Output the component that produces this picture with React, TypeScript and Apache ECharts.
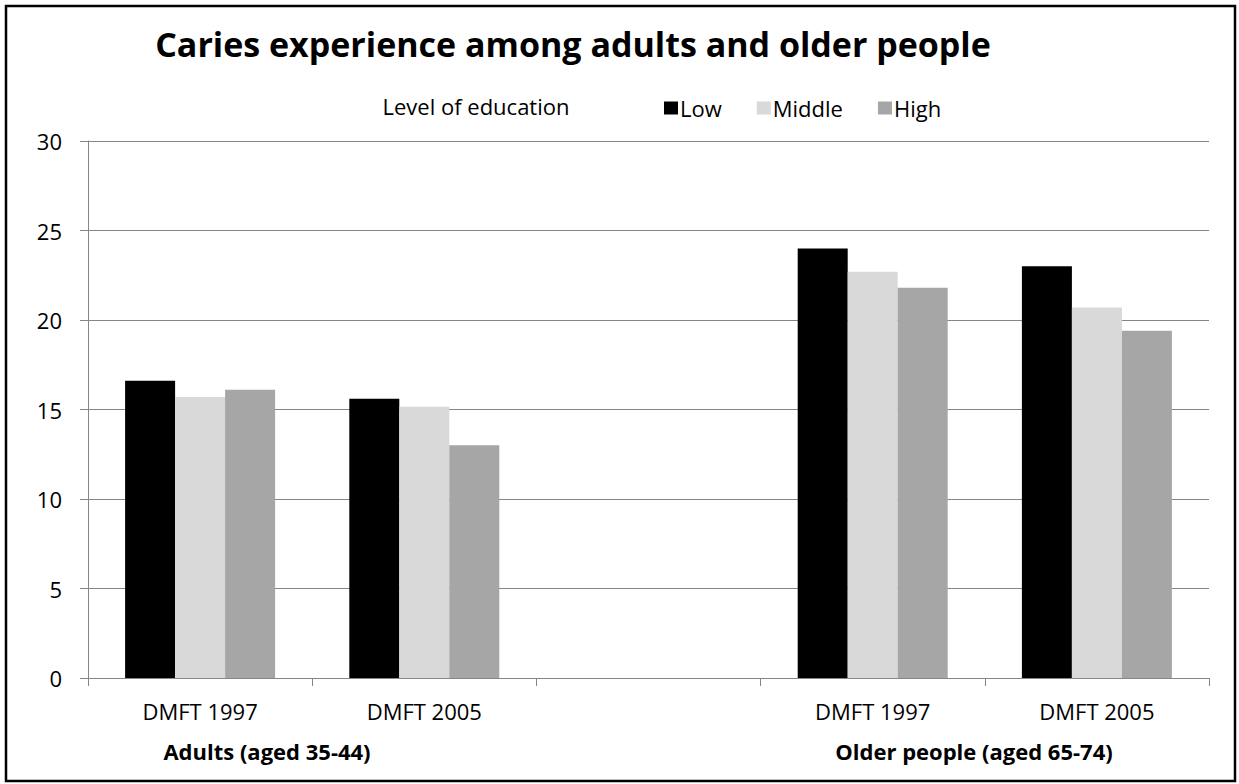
import React, { useEffect, useRef } from "react";
import * as echarts from "echarts";

// Categories along the x axis (the empty slot separates the two age groups)
const categories = ["DMFT 1997", "DMFT 2005", "", "DMFT 1997", "DMFT 2005"];
const groupLabels = ["Adults (aged 35-44)", "Older people (aged 65-74)"];

// Mean DMFT by level of education
const lowValues = [16.6, 15.6, null, 24.0, 23.0];
const middleValues = [15.7, 15.15, null, 22.7, 20.7];
const highValues = [16.1, 13.0, null, 21.8, 19.4];

const yTicks = { min: 0, max: 30, interval: 5 };

const FONT = "'Open Sans', 'Noto Sans', sans-serif";
const LABEL_SIZE = 22;

export default function App() {
  const ref = useRef<HTMLDivElement>(null);

  useEffect(() => {
    if (!ref.current) return;
    const chart = echarts.init(ref.current, null, { renderer: "svg" });

    const barStyle = (color: string) => ({
      type: "bar" as const,
      barWidth: 50,
      barGap: "0%",
      itemStyle: { color },
    });

    chart.setOption({
      animation: false,
      backgroundColor: "#ffffff",
      textStyle: { fontFamily: FONT },
      title: {
        text: "Caries experience among adults and older people",
        left: 568,
        top: 22,
        textAlign: "center",
        textStyle: { fontFamily: FONT, fontSize: 34, fontWeight: "bold", color: "#000" },
      },
      legend: {
        left: 659,
        top: 92,
        itemWidth: 14,
        itemHeight: 13,
        itemGap: 35,
        icon: "rect",
        textStyle: { fontFamily: FONT, fontSize: LABEL_SIZE, color: "#000", padding: [0, 0, 0, -3] },
        data: ["Low", "Middle", "High"],
      },
      grid: { left: 88, right: 30, top: 141, bottom: 106 },
      xAxis: {
        type: "category",
        data: categories,
        axisLine: { lineStyle: { color: "#868686", width: 1 } },
        axisTick: { show: true, length: 8, lineStyle: { color: "#868686" } },
        axisLabel: { fontFamily: FONT, fontSize: LABEL_SIZE, color: "#000", margin: 22 },
      },
      yAxis: {
        type: "value",
        min: yTicks.min,
        max: yTicks.max,
        interval: yTicks.interval,
        axisLine: { show: true, lineStyle: { color: "#868686", width: 1 } },
        axisTick: { show: true, length: 8, lineStyle: { color: "#868686" } },
        splitLine: { lineStyle: { color: "#868686", width: 1 } },
        axisLabel: { fontFamily: FONT, fontSize: LABEL_SIZE, color: "#000", margin: 26 },
      },
      series: [
        { name: "Low", data: lowValues, ...barStyle("#000000") },
        { name: "Middle", data: middleValues, ...barStyle("#d9d9d9") },
        { name: "High", data: highValues, ...barStyle("#a6a6a6") },
      ],
      graphic: [
        {
          type: "rect",
          shape: { x: 6, y: 6, width: 1229, height: 775 },
          style: { fill: "none", stroke: "#000", lineWidth: 2.5 },
          silent: true,
        },
        {
          type: "text",
          x: 476,
          y: 106,
          style: {
            text: "Level of education",
            fontFamily: FONT,
            fontSize: LABEL_SIZE,
            fill: "#000",
            textAlign: "center",
            textVerticalAlign: "middle",
          },
        },
        {
          type: "text",
          x: 267,
          y: 751,
          style: {
            text: groupLabels[0],
            fontFamily: FONT,
            fontSize: LABEL_SIZE,
            fontWeight: "bold",
            fill: "#000",
            textAlign: "center",
            textVerticalAlign: "middle",
          },
        },
        {
          type: "text",
          x: 974,
          y: 751,
          style: {
            text: groupLabels[1],
            fontFamily: FONT,
            fontSize: LABEL_SIZE,
            fontWeight: "bold",
            fill: "#000",
            textAlign: "center",
            textVerticalAlign: "middle",
          },
        },
      ],
    });

    return () => chart.dispose();
  }, []);

  return (
    <div
      ref={ref}
      style={{ position: "fixed", left: 0, top: 0, width: 1239, height: 784, background: "#fff" }}
    />
  );
}
